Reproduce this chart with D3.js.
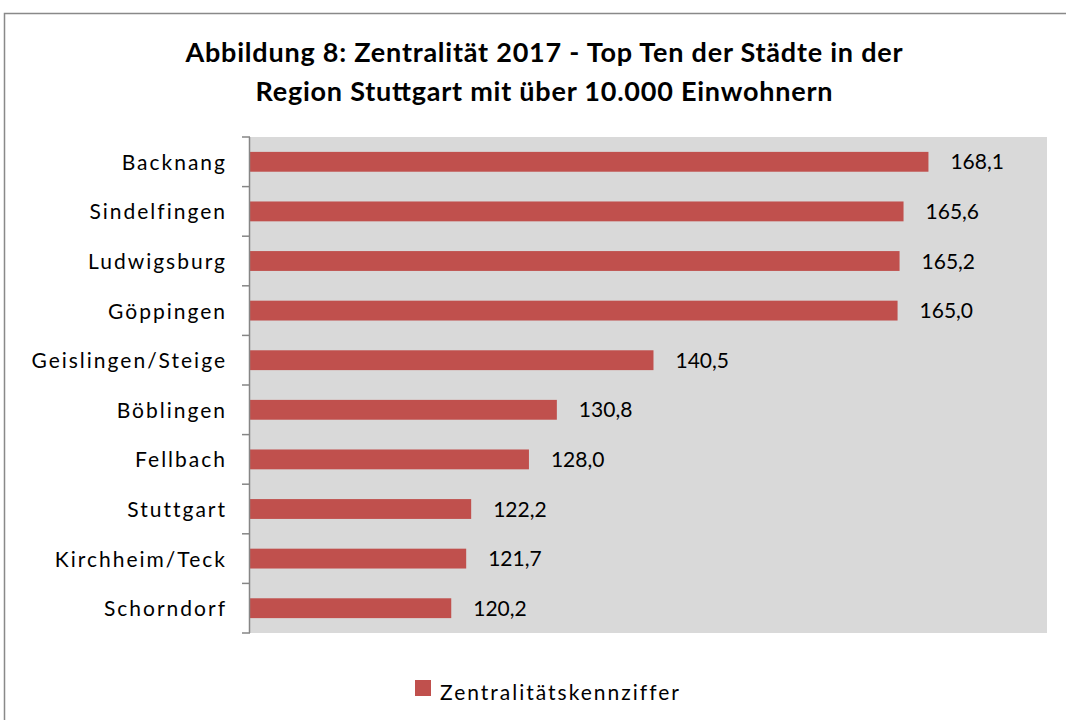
<!DOCTYPE html>
<html><head><meta charset="utf-8">
<script src="https://cdn.jsdelivr.net/npm/d3@7"></script>
<style>html,body{margin:0;padding:0;background:#fff;}svg{display:block;}</style>
</head><body>
<script>
const categories = ["Backnang","Sindelfingen","Ludwigsburg","Göppingen","Geislingen/Steige","Böblingen","Fellbach","Stuttgart","Kirchheim/Teck","Schorndorf"];
const values = [168.1,165.6,165.2,165.0,140.5,130.8,128.0,122.2,121.7,120.2];
const seriesName = "Zentralitätskennziffer";
const titleLines = ["Abbildung 8: Zentralität 2017  - Top Ten der Städte in der","Region Stuttgart mit über 10.000  Einwohnern"];
const xDomain = [100, 180];

const W = 1066, H = 720;
const font = "Lato, 'Open Sans', sans-serif";
const svg = d3.select("body").append("svg").attr("width", W).attr("height", H);

// outer border
svg.append("rect").attr("x", 4.5).attr("y", 13.5).attr("width", W + 10).attr("height", H + 10)
  .attr("fill", "#fff").attr("stroke", "#898989").attr("stroke-width", 1.5);

// title
const titleWidths = [717, 577];
svg.append("g").selectAll("text").data(titleLines).join("text")
  .attr("x", 544).attr("y", (d, i) => 62 + i * 39)
  .attr("text-anchor", "middle").attr("font-family", font).attr("font-weight", "bold")
  .attr("font-size", 27).attr("fill", "#000")
  .attr("textLength", (d, i) => titleWidths[i]).attr("lengthAdjust", "spacing")
  .text(d => d);

const plot = {left: 250, top: 137, right: 1047, bottom: 633};
const x = d3.scaleLinear().domain(xDomain).range([plot.left, plot.right]);
const y = d3.scaleBand().domain(categories).range([plot.top, plot.bottom]).paddingInner(0.6).paddingOuter(0.3);

svg.append("rect").attr("x", plot.left).attr("y", plot.top)
  .attr("width", plot.right - plot.left).attr("height", plot.bottom - plot.top).attr("fill", "#D9D9D9");

svg.append("g").selectAll("rect").data(values).join("rect")
  .attr("x", x(xDomain[0])).attr("y", (d, i) => y(categories[i]))
  .attr("width", d => x(d) - x(xDomain[0])).attr("height", y.bandwidth())
  .attr("fill", "#C0504D");

svg.append("g").selectAll("text").data(values).join("text")
  .attr("x", d => x(d) + 22).attr("y", (d, i) => y(categories[i]) + y.bandwidth() / 2)
  .attr("dy", "0.36em").attr("font-family", font).attr("font-size", 21).attr("fill", "#000")
  .text(d => d3.format(".1f")(d).replace(".", ","));

// category axis with ticks between categories
const yAxisScale = d3.scaleLinear().domain([0, categories.length]).range([plot.top, plot.bottom]);
const ag = svg.append("g");
ag.append("line").attr("x1", plot.left - 0.5).attr("x2", plot.left - 0.5)
  .attr("y1", plot.top).attr("y2", plot.bottom).attr("stroke", "#868686").attr("stroke-width", 1.5);
ag.selectAll("line.t").data(d3.range(categories.length + 1)).join("line").attr("class", "t")
  .attr("x1", plot.left - 8).attr("x2", plot.left).attr("y1", d => yAxisScale(d)).attr("y2", d => yAxisScale(d))
  .attr("stroke", "#868686").attr("stroke-width", 1.5);
ag.selectAll("text").data(categories).join("text")
  .attr("x", 227).attr("y", d => y(d) + y.bandwidth() / 2).attr("dy", "0.38em")
  .attr("text-anchor", "end").attr("font-family", font).attr("font-size", 21)
  .attr("letter-spacing", 2).attr("fill", "#000")
  .text(d => d);

// legend
const lg = svg.append("g");
lg.append("rect").attr("x", 415).attr("y", 680).attr("width", 16).attr("height", 16).attr("fill", "#C0504D");
lg.append("text").attr("x", 440).attr("y", 700).attr("font-family", font)
  .attr("font-size", 21).attr("letter-spacing", 2).attr("fill", "#000").text(seriesName);
</script>
</body></html>
